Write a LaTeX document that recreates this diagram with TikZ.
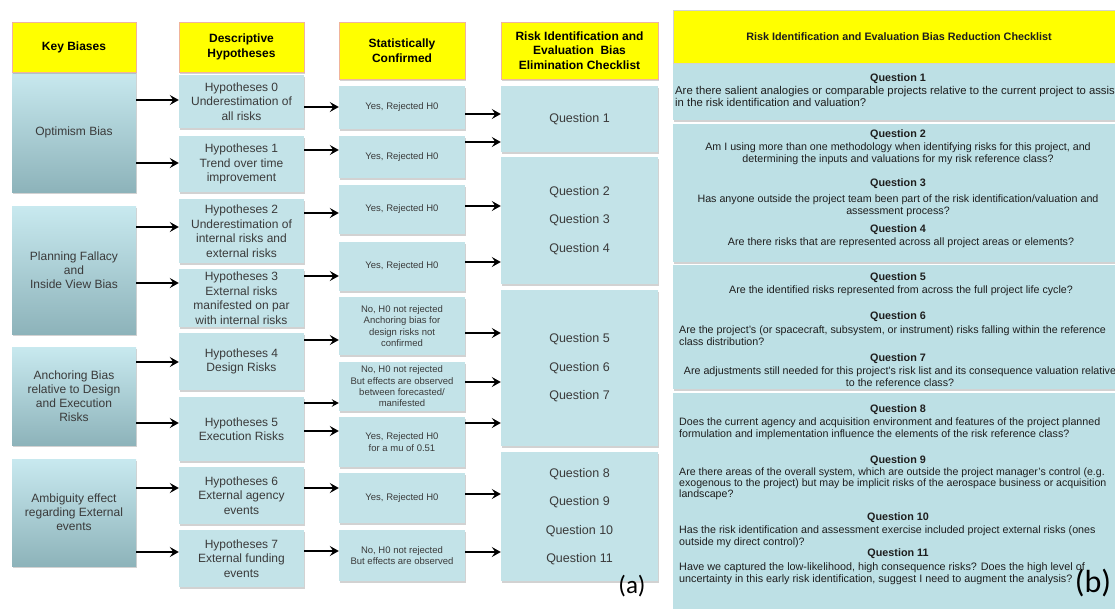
\documentclass[tikz,border=0pt]{standalone}
\usepackage{fontspec}
\setmainfont{Liberation Sans}
\newfontfamily\calib{Carlito}
\usetikzlibrary{arrows.meta,shadows}
\definecolor{hyel}{HTML}{FFFF00}
\definecolor{hbord}{HTML}{F0B49C}
\definecolor{lblue}{HTML}{C3E3E8}
\definecolor{gtop}{HTML}{C8E9EF}
\definecolor{gbot}{HTML}{8DB3BA}
\definecolor{txt}{HTML}{3A3A3A}
\definecolor{pblue}{HTML}{BDE0E5}
\definecolor{ptxt}{HTML}{1E1E1E}
\begin{document}
\begin{tikzpicture}[x=1pt,y=-1pt,
  shad/.style={drop shadow={shadow xshift=0.5pt,shadow yshift=-1.6pt,opacity=.35}},
  hdr/.style={draw=hbord,line width=0.8pt,fill=hyel,shad,inner sep=0pt,align=center,
    font=\bfseries\fontsize{12}{14.5}\selectfont,text=black},
  kb/.style={top color=gtop,bottom color=gbot,shad,inner sep=0pt,align=center,
    font=\fontsize{12}{14}\selectfont,text=txt,minimum width=124pt},
  hy/.style={fill=lblue,shad,inner sep=0pt,align=center,
    font=\fontsize{12}{14.5}\selectfont,text=txt,minimum width=125pt},
  st/.style={fill=lblue,shad,inner sep=0pt,align=center,
    font=\fontsize{9.5}{11.3}\selectfont,text=txt,minimum width=126pt},
  qb/.style={fill=lblue,shad,inner sep=0pt,align=center,
    font=\fontsize{12.5}{28.5}\selectfont,text=txt,minimum width=157pt},
  arr/.style={-{Stealth[length=9pt,width=10pt,inset=3.5pt]},line width=1.9pt,black},
  thin arr/.style={-{Stealth[length=7pt,width=7.5pt,inset=2.5pt]},line width=1.1pt,black},
  pbox/.style={fill=pblue,shad,inner sep=0pt,minimum width=452pt},
  qh/.style={font=\bfseries\fontsize{10.8}{12}\selectfont,text=ptxt,inner sep=0pt},
  qt/.style={font=\fontsize{10.7}{12}\selectfont,text=ptxt,inner sep=0pt},
  qw/.style={font=\fontsize{10.7}{12}\selectfont,text=ptxt,inner sep=0pt,anchor=north west,align=left},
  lab/.style={font=\calib\fontsize{25}{25}\selectfont,text=black,inner sep=0pt}
]
\clip (0,0) rectangle (1115,608);
\fill[white] (0,0) rectangle (1115,608);

% ---------- panel (a): column 1
\node[kb,minimum height=120pt] (kb1) at (74,132) {Optimism Bias};
\node[kb,minimum height=128pt] (kb2) at (74,270) {Planning Fallacy\\and\\Inside View Bias};
\node[kb,minimum height=98pt] (kb3) at (74,396) {Anchoring Bias\\relative to Design\\and Execution\\Risks};
\node[kb,minimum height=107pt] (kb4) at (74,512.5) {Ambiguity effect\\regarding External\\events};
\node[hdr,minimum width=124pt,minimum height=50pt] (c1h) at (74,47) {Key Biases};

% ---------- column 2
\node[hdr,minimum width=125pt,minimum height=50pt] (c2h) at (241.5,47) {Descriptive\\Hypotheses};
\node[hy,minimum height=53pt] (hy0) at (241.5,101.5) {Hypotheses 0\\Underestimation of\\all risks};
\node[hy,minimum height=56pt] (hy1) at (241.5,164) {Hypotheses 1\\Trend over time\\improvement};
\node[hy,minimum height=64pt] (hy2) at (241.5,231) {Hypotheses 2\\Underestimation of\\internal risks and\\external risks};
\node[hy,minimum height=58pt] (hy3) at (241.5,298) {Hypotheses 3\\External risks\\manifested on par\\with internal risks};
\node[hy,minimum height=57pt] (hy4) at (241.5,361.5) {Hypotheses 4\\Design Risks};
\node[hy,minimum height=64pt] (hy5) at (241.5,429) {Hypotheses 5\\Execution Risks};
\node[hy,minimum height=57pt] (hy6) at (241.5,495.5) {Hypotheses 6\\External agency\\events};
\node[hy,minimum height=57pt] (hy7) at (241.5,558.5) {Hypotheses 7\\External funding\\events};

% ---------- column 3
\node[hdr,minimum width=126pt,minimum height=57pt] (c3h) at (402,50.5) {Statistically\\Confirmed};
\node[st,minimum height=43pt] (s0) at (402,107.5) {Yes, Rejected H0};
\node[st,minimum height=42pt] (s1) at (402,157) {Yes, Rejected H0};
\node[st,minimum height=49pt] (s2) at (402,209.5) {Yes, Rejected H0};
\node[st,minimum height=49pt] (s3) at (402,266.5) {Yes, Rejected H0};
\node[st,minimum height=58pt] (s4) at (402,326) {No, H0 not rejected\\Anchoring bias for\\design risks not\\confirmed};
\node[st,minimum height=49pt] (s5) at (402,386.5) {No, H0 not rejected\\But effects are observed\\between forecasted/\\manifested};
\node[st,minimum height=50pt] (s6) at (402,442) {Yes, Rejected H0\\for a mu of 0.51};
\node[st,minimum height=50pt] (s7) at (402,498) {Yes, Rejected H0};
\node[st,minimum height=51pt] (s8) at (402,555.5) {No, H0 not rejected\\But effects are observed};

% ---------- column 4
\node[hdr,minimum width=157pt,minimum height=57pt] (c4h) at (579.5,50.5) {Risk Identification and\\Evaluation\ \ Bias\\Elimination Checklist};
\node[qb,minimum height=66pt] (q1) at (579.5,119) {Question 1};
\node[qb,minimum height=127pt] (q2) at (579.5,220.5) {Question 2\\Question 3\\Question 4};
\node[qb,minimum height=156pt] (q3) at (579.5,368) {Question 5\\Question 6\\Question 7};
\node[qb,minimum height=129pt] (q4) at (579.5,516.5) {Question 8\\Question 9\\Question 10\\Question 11};

\node[lab] (la) at (632,586) {(a)};

% ---------- arrows col1 -> col2
\draw[arr] (kb1.east |- 0,100) -- (hy0.west |- 0,100);
\draw[arr] (kb1.east |- 0,163) -- (hy1.west |- 0,163);
\draw[arr] (kb2.east |- 0,227) -- (hy2.west |- 0,227);
\draw[arr] (kb2.east |- 0,283) -- (hy3.west |- 0,283);
\draw[arr] (kb3.east |- 0,362) -- (hy4.west |- 0,362);
\draw[arr] (kb3.east |- 0,423) -- (hy5.west |- 0,423);
\draw[arr] (kb4.east |- 0,488) -- (hy6.west |- 0,488);
\draw[arr] (kb4.east |- 0,552) -- (hy7.west |- 0,552);

% ---------- arrows col2 -> col3
\draw[arr] (hy0.east |- 0,107) -- (s0.west |- 0,107);
\draw[arr] (hy1.east |- 0,150) -- (s1.west |- 0,150);
\draw[arr] (hy2.east |- 0,213) -- (s2.west |- 0,213);
\draw[arr] (hy3.east |- 0,276) -- (s3.west |- 0,276);
\draw[arr] (hy4.east |- 0,340) -- (s4.west |- 0,340);
\draw[thin arr] (hy5.east |- 0,403) -- (s5.west |- 0,403);
\draw[arr] (hy5.east |- 0,431) -- (s6.west |- 0,431);
\draw[arr] (hy6.east |- 0,488) -- (s7.west |- 0,488);
\draw[arr] (hy7.east |- 0,551) -- (s8.west |- 0,551);

% ---------- arrows col3 -> col4
\draw[arr] (s0.east |- 0,114) -- (q1.west |- 0,114);
\draw[arr] (s1.east |- 0,142) -- (q1.west |- 0,142);
\draw[arr] (s2.east |- 0,206) -- (q2.west |- 0,206);
\draw[arr] (s3.east |- 0,262) -- (q2.west |- 0,262);
\draw[arr] (s4.east |- 0,333) -- (q3.west |- 0,333);
\draw[arr] (s5.east |- 0,382) -- (q3.west |- 0,382);
\draw[arr] (s6.east |- 0,423) -- (q3.west |- 0,423);
\draw[arr] (s7.east |- 0,494) -- (q4.west |- 0,494);
\draw[arr] (s8.east |- 0,552) -- (q4.west |- 0,552);

% ---------- panel (b)
\node[pbox,minimum height=57pt] (b1) at (899,91.5) {};
\node[pbox,minimum height=138pt] (b2) at (899,193) {};
\node[pbox,minimum height=124pt] (b3) at (899,327) {};
\node[pbox,minimum height=220pt] (b4) at (899,503) {};
\node[fill=hyel,inner sep=0pt,minimum width=452pt,minimum height=53pt,draw=gray!35,line width=0.5pt,
  font=\bfseries\fontsize{10.8}{12}\selectfont,text=ptxt] (bh) at (899,36.5)
  {Risk Identification and Evaluation Bias Reduction Checklist};

\node[qh] (t1) at (898,79) {Question 1};
\node[qw,font=\fontsize{11.3}{12}\selectfont] (p1) at (675,86) {Are there salient analogies or comparable projects relative to the current project to assist\\in the risk identification and valuation?};
\node[qh] (t2) at (898,135) {Question 2};
\node[qt,anchor=north,align=center] (p2) at (898,143) {Am I using more than one methodology when identifying risks for this project, and\\determining the inputs and valuations for my risk reference class?};
\node[qh] (t3) at (898,184) {Question 3};
\node[qt,anchor=north,align=center] (p3) at (898,195) {Has anyone outside the project team been part of the risk identification/valuation and\\assessment process?};
\node[qh] (t4) at (898,230) {Question 4};
\node[qt,anchor=north,align=center] (p4) at (901,238) {Are there risks that are represented across all project areas or elements?};
\node[qh] (t5) at (898,278) {Question 5};
\node[qt,anchor=north,align=center] (p5) at (901,286) {Are the identified risks represented from across the full project life cycle?};
\node[qh] (t6) at (898,317) {Question 6};
\node[qw] (p6) at (679,326) {Are the project’s (or spacecraft, subsystem, or instrument) risks falling within the reference\\class distribution?};
\node[qh] (t7) at (898,359) {Question 7};
\node[qt,anchor=north,align=center] (p7) at (900,367) {Are adjustments still needed for this project’s risk list and its consequence valuation relative\\to the reference class?};
\node[qh] (t8) at (898,410) {Question 8};
\node[qw] (p8) at (679,418) {Does the current agency and acquisition environment and features of the project planned\\formulation and implementation influence the elements of the risk reference class?};
\node[qh] (t9) at (898,461) {Question 9};
\node[qw,font=\fontsize{10.6}{11}\selectfont] (p9) at (679,468) {Are there areas of the overall system, which are outside the project manager’s control (e.g.\\exogenous to the project) but may be implicit risks of the aerospace business or acquisition\\landscape?};
\node[qh] (t10) at (898,518) {Question 10};
\node[qw] (p10) at (679,526) {Has the risk identification and assessment exercise included project external risks (ones\\outside my direct control)?};
\node[qh] (t11) at (898,554) {Question 11};
\node[qw,font=\fontsize{10.8}{12}\selectfont] (p11) at (679,562) {Have we captured the low-likelihood, high consequence risks? Does the high level of\\uncertainty in this early risk identification, suggest I need to augment the analysis?};

\node[lab,font=\calib\fontsize{32}{32}\selectfont] (lb) at (1093,583) {(b)};
\end{tikzpicture}
\end{document}
